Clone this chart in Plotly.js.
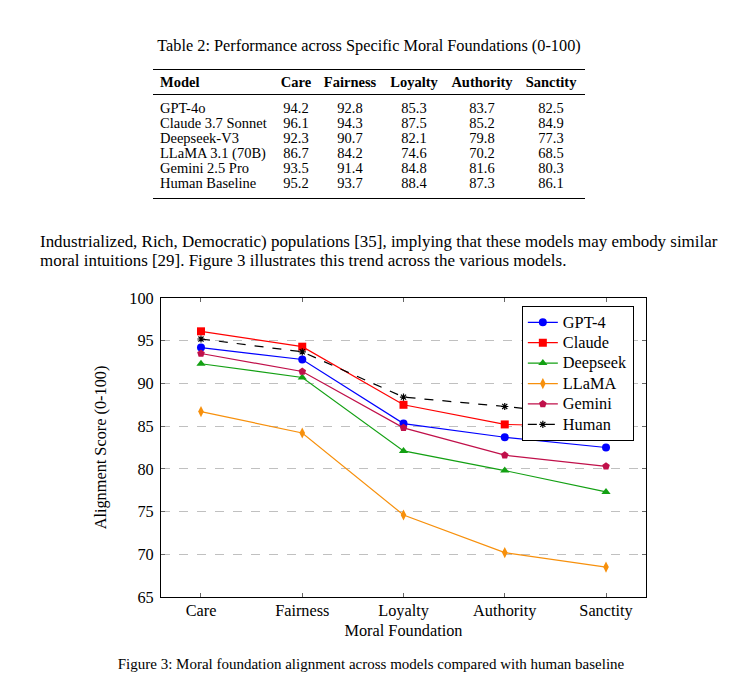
<!DOCTYPE html>
<html>
<head>
<meta charset="utf-8">
<script src="https://cdn.plot.ly/plotly-3.0.1.min.js"></script>
<style>
  html, body { margin: 0; padding: 0; background: #fff; }
  body { width: 742px; height: 698px; position: relative; overflow: hidden; font-family: "Liberation Serif", "Times New Roman", serif; color: #000; }
  #chart { position: absolute; left: 0; top: 0; width: 742px; height: 698px; }
  .abs { position: absolute; white-space: nowrap; }
  #tabtitle { left: 0; width: 738px; text-align: center; top: 36px; font-size: 16.3px; }
  table { position: absolute; left: 153px; top: 69px; border-collapse: collapse; font-size: 14.5px; line-height: 15px; table-layout: fixed; width: 432px; }
  table th { font-weight: bold; padding: 5px 0 4px 0; text-align: center; }
  table td { padding: 0; text-align: center; }
  table th:first-child, table td:first-child { text-align: left; padding-left: 7px; }
  table tr.h th { border-top: 1.3px solid #000; border-bottom: 1px solid #000; }
  table tr.first td { padding-top: 6px; }
  table tr.last td { padding-bottom: 7px; border-bottom: 1.3px solid #000; }
  #para { left: 40px; top: 232px; font-size: 16.95px; line-height: 19px; }
  #caption { left: 0; width: 742px; text-align: center; top: 656px; font-size: 15px; }
</style>
</head>
<body>
<div id="chart"></div>
<div id="tabtitle" class="abs">Table 2: Performance across Specific Moral Foundations (0-100)</div>
<table id="tbl">
  <colgroup><col style="width:120px"><col style="width:46px"><col style="width:62px"><col style="width:66px"><col style="width:70px"><col style="width:68px"></colgroup>
  <tbody id="tbody"></tbody>
</table>
<div id="para" class="abs">Industrialized, Rich, Democratic) populations [35], implying that these models may embody similar<br>moral intuitions [29]. Figure 3 illustrates this trend across the various models.</div>
<div id="caption" class="abs">Figure 3: Moral foundation alignment across models compared with human baseline</div>
<script>
const foundations = ["Care", "Fairness", "Loyalty", "Authority", "Sanctity"];
const tableModels = ["GPT-4o", "Claude 3.7 Sonnet", "Deepseek-V3", "LLaMA 3.1 (70B)", "Gemini 2.5 Pro", "Human Baseline"];
const legendNames = ["GPT-4", "Claude", "Deepseek", "LLaMA", "Gemini", "Human"];
const gpt4 = [94.2, 92.8, 85.3, 83.7, 82.5];
const claude = [96.1, 94.3, 87.5, 85.2, 84.9];
const deepseek = [92.3, 90.7, 82.1, 79.8, 77.3];
const llama = [86.7, 84.2, 74.6, 70.2, 68.5];
const gemini = [93.5, 91.4, 84.8, 81.6, 80.3];
const human = [95.2, 93.7, 88.4, 87.3, 86.1];
const yTicks = [65, 70, 75, 80, 85, 90, 95, 100];

const series = [gpt4, claude, deepseek, llama, gemini, human];

// Build table
const tbody = document.getElementById("tbody");
let html = '<tr class="h"><th>Model</th>' + foundations.map(f => '<th>' + f + '</th>').join('') + '</tr>';
series.forEach((s, i) => {
  let cls = i === 0 ? 'first' : (i === series.length - 1 ? 'last' : '');
  html += '<tr class="' + cls + '"><td>' + tableModels[i] + '</td>' + s.map(v => '<td>' + v.toFixed(1) + '</td>').join('') + '</tr>';
});
tbody.innerHTML = html;

const styles = [
  {color: "#0000ff", symbol: "circle", size: 8, dash: "solid"},
  {color: "#ff0000", symbol: "square", size: 8, dash: "solid"},
  {color: "#13a013", symbol: "triangle-up", size: 8, dash: "solid"},
  {color: "#f7900c", symbol: "diamond-tall", size: 8, dash: "solid"},
  {color: "#c0104a", symbol: "pentagon", size: 8, dash: "solid"},
  {color: "#000000", symbol: "asterisk-open", size: 6, dash: "dash"}
];

const traces = series.map((s, i) => ({
  x: foundations,
  y: s,
  name: '<span style="font-size:16.3px">' + legendNames[i] + '</span>',
  type: "scatter",
  mode: "lines+markers",
  line: {color: styles[i].color, width: 1.2, dash: styles[i].dash},
  marker: {color: styles[i].color, symbol: styles[i].symbol, size: styles[i].size,
           line: {color: styles[i].color, width: i === 5 ? 1.2 : 0}}
}));

const fam = "Liberation Serif, Times New Roman, serif";
const font = {family: fam, size: 16.3, color: "#000"};

const layout = {
  width: 742, height: 698,
  margin: {l: 161, r: 96, t: 298, b: 101, pad: 0},
  paper_bgcolor: "rgba(0,0,0,0)",
  plot_bgcolor: "#fff",
  font: font,
  showlegend: true,
  legend: {
    x: 0.744, y: 0.973, xanchor: "left", yanchor: "top",
    bordercolor: "#000", borderwidth: 1, bgcolor: "#fff",
    font: {family: fam, size: 13.4, color: "#000"},
    tracegroupgap: 0, itemwidth: 30
  },
  xaxis: {
    type: "category",
    range: [-0.395, 4.395],
    tickvals: foundations, ticktext: foundations,
    ticks: "inside", ticklen: 4, tickcolor: "#666",
    showline: true, linecolor: "#000", linewidth: 1, mirror: "ticks",
    showgrid: false, zeroline: false,
    ticklabelstandoff: -2,
    tickfont: font,
    title: {text: "Moral Foundation", font: font, standoff: 6}
  },
  yaxis: {
    range: [65, 100],
    tickvals: yTicks,
    ticks: "inside", ticklen: 4, tickcolor: "#666",
    showline: true, linecolor: "#000", linewidth: 1, mirror: "ticks",
    showgrid: true, gridcolor: "#c0c0c0", griddash: "dash", gridwidth: 1,
    zeroline: false,
    ticklabelstandoff: 3,
    tickfont: font,
    title: {text: "Alignment Score (0-100)", font: font, standoff: 18}
  }
};

Plotly.newPlot("chart", traces, layout, {displayModeBar: false, staticPlot: true});
</script>
</body>
</html>
